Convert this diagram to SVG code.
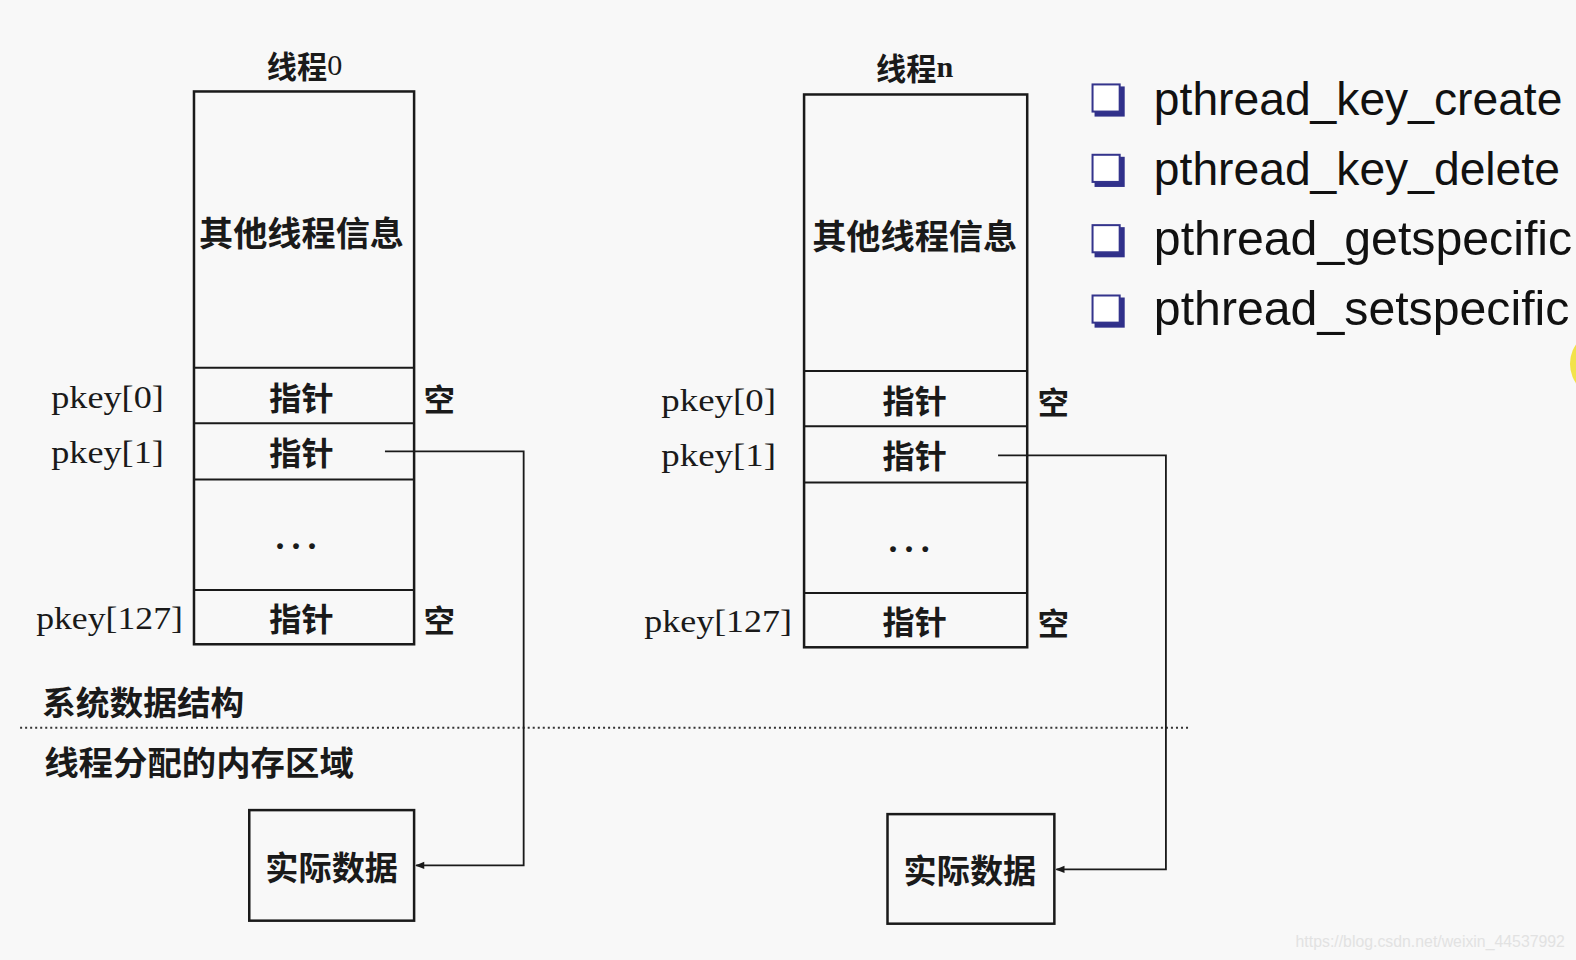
<svg xmlns="http://www.w3.org/2000/svg" width="1576" height="960" viewBox="0 0 1576 960">
<style>
.box{fill:none;stroke:#1a1a1a;stroke-width:2.5}
.ln{fill:none;stroke:#1a1a1a;stroke-width:2}
.cn{fill:none;stroke:#1a1a1a;stroke-width:1.8}
.cjk{font-family:"Noto Sans CJK SC","Noto Sans CJK JP",sans-serif;font-weight:700;fill:#1a1a1a}
.ser{font-family:"Liberation Serif","DejaVu Serif",serif;fill:#1a1a1a}
.dots{font-family:"Liberation Serif","DejaVu Serif",serif;font-weight:700;font-size:36px;letter-spacing:7px;fill:#1a1a1a}
.bul{font-family:"Liberation Sans",Arial,sans-serif;fill:#111}
.chk{fill:#fff;stroke:#34348c;stroke-width:2}
.shd{fill:#30308a}
</style>
<defs>
<marker id="ah" viewBox="0 0 10 10" refX="9" refY="5" markerWidth="10" markerHeight="9" orient="auto" markerUnits="userSpaceOnUse">
<path d="M0,1 L10,5 L0,9 Z" fill="#1a1a1a"/>
</marker>
</defs>
<rect width="1576" height="960" fill="#f8f8f8"/>
<g transform="scale(1.0051)">
<g id="thread0">
<text class="cjk" x="303" y="65" font-size="30" text-anchor="middle" dominant-baseline="central">线程<tspan class="ser" font-weight="400">0</tspan></text>
<rect class="box" x="193" y="91" width="219" height="550"/>
<line class="ln" x1="193" y1="366" x2="412" y2="366"/>
<line class="ln" x1="193" y1="421" x2="412" y2="421"/>
<line class="ln" x1="193" y1="477" x2="412" y2="477"/>
<line class="ln" x1="193" y1="587" x2="412" y2="587"/>
<text class="cjk" x="300" y="230" font-size="34" text-anchor="middle" dominant-baseline="central">其他线程信息</text>
<text class="cjk" x="300" y="394" font-size="32" text-anchor="middle" dominant-baseline="central">指针</text>
<text class="cjk" x="300" y="449" font-size="32" text-anchor="middle" dominant-baseline="central">指针</text>
<text class="dots" x="274" y="546">...</text>
<text class="cjk" x="300" y="614" font-size="32" text-anchor="middle" dominant-baseline="central">指针</text>
<text class="ser" x="51" y="406" font-size="32" textLength="112" lengthAdjust="spacingAndGlyphs">pkey[0]</text>
<text class="ser" x="51" y="461" font-size="32" textLength="112" lengthAdjust="spacingAndGlyphs">pkey[1]</text>
<text class="ser" x="36" y="626" font-size="32" textLength="146" lengthAdjust="spacingAndGlyphs">pkey[127]</text>
<text class="cjk" x="437" y="395" font-size="31" text-anchor="middle" dominant-baseline="central">空</text>
<text class="cjk" x="437" y="615" font-size="31" text-anchor="middle" dominant-baseline="central">空</text>
</g>
<g id="data0">
<rect class="box" x="248" y="806" width="164" height="110"/>
<text class="cjk" x="330" y="862" font-size="33" text-anchor="middle" dominant-baseline="central">实际数据</text>
</g>
<g id="threadn">
<text class="cjk" x="910" y="67" font-size="30" text-anchor="middle" dominant-baseline="central">线程<tspan class="ser">n</tspan></text>
<rect class="box" x="800" y="94" width="222" height="550"/>
<line class="ln" x1="800" y1="369" x2="1022" y2="369"/>
<line class="ln" x1="800" y1="424" x2="1022" y2="424"/>
<line class="ln" x1="800" y1="480" x2="1022" y2="480"/>
<line class="ln" x1="800" y1="590" x2="1022" y2="590"/>
<text class="cjk" x="910" y="233" font-size="34" text-anchor="middle" dominant-baseline="central">其他线程信息</text>
<text class="cjk" x="910" y="397" font-size="32" text-anchor="middle" dominant-baseline="central">指针</text>
<text class="cjk" x="910" y="452" font-size="32" text-anchor="middle" dominant-baseline="central">指针</text>
<text class="dots" x="884" y="549">...</text>
<text class="cjk" x="910" y="617" font-size="32" text-anchor="middle" dominant-baseline="central">指针</text>
<text class="ser" x="658" y="409" font-size="32" textLength="114" lengthAdjust="spacingAndGlyphs">pkey[0]</text>
<text class="ser" x="658" y="464" font-size="32" textLength="114" lengthAdjust="spacingAndGlyphs">pkey[1]</text>
<text class="ser" x="641" y="629" font-size="32" textLength="147" lengthAdjust="spacingAndGlyphs">pkey[127]</text>
<text class="cjk" x="1048" y="398" font-size="31" text-anchor="middle" dominant-baseline="central">空</text>
<text class="cjk" x="1048" y="618" font-size="31" text-anchor="middle" dominant-baseline="central">空</text>
</g>
<g id="datan">
<rect class="box" x="883" y="810" width="166" height="109"/>
<text class="cjk" x="965" y="865" font-size="33" text-anchor="middle" dominant-baseline="central">实际数据</text>
</g>
<g id="regions">
<text class="cjk" x="42" y="697" font-size="33" dominant-baseline="central" textLength="201" lengthAdjust="spacingAndGlyphs">系统数据结构</text>
<line x1="20" y1="724" x2="1183" y2="724" stroke="#333" stroke-width="2" stroke-dasharray="2 3"/>
<text class="cjk" x="44" y="757" font-size="33" dominant-baseline="central" textLength="308" lengthAdjust="spacingAndGlyphs">线程分配的内存区域</text>
</g>
<g id="connectors">
<polyline class="cn" points="383,449 521,449 521,861 414,861" marker-end="url(#ah)"/>
<polyline class="cn" points="993,453 1160,453 1160,865 1051,865" marker-end="url(#ah)"/>
</g>
<g id="bullets">
<rect class="shd" x="1089" y="86" width="30" height="30"/>
<rect class="chk" x="1087" y="84" width="27" height="27"/>
<text class="bul" x="1148" y="114.5" font-size="46">pthread_key_create</text>
<rect class="shd" x="1089" y="156" width="30" height="30"/>
<rect class="chk" x="1087" y="154" width="27" height="27"/>
<text class="bul" x="1148" y="184" font-size="46">pthread_key_delete</text>
<rect class="shd" x="1089" y="226" width="30" height="30"/>
<rect class="chk" x="1087" y="224" width="27" height="27"/>
<text class="bul" x="1148" y="254" font-size="48">pthread_getspecific</text>
<rect class="shd" x="1089" y="296" width="30" height="30"/>
<rect class="chk" x="1087" y="294" width="27" height="27"/>
<text class="bul" x="1148" y="323.5" font-size="48">pthread_setspecific</text>
</g>
<circle cx="1596" cy="362" r="34" fill="#f2e34a"/>
<text x="1289" y="942" font-family="Liberation Sans,Arial,sans-serif" font-size="16" fill="#e2e2e2" textLength="268" lengthAdjust="spacingAndGlyphs">https://blog.csdn.net/weixin_44537992</text>
</g>
</svg>
